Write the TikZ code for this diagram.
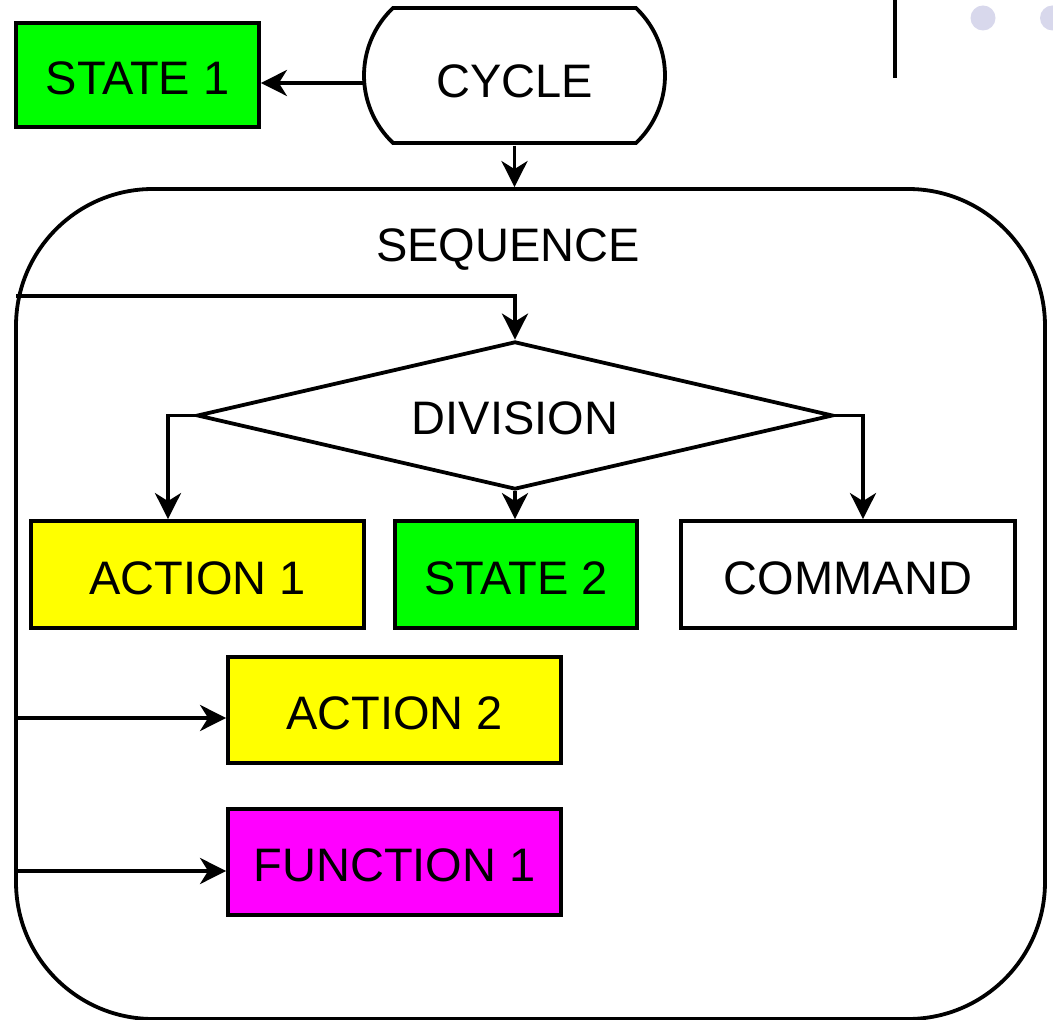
\documentclass[tikz,border=0pt]{standalone}
\usepackage{fontspec}
\setmainfont{Liberation Sans}
\usetikzlibrary{arrows.meta,shapes.geometric}
\definecolor{fillgreen}{HTML}{00FF00}
\definecolor{fillyellow}{HTML}{FFFF00}
\definecolor{fillmagenta}{HTML}{FF00FF}
\definecolor{dotgrey}{HTML}{D8D8EC}
\tikzset{
  every node/.style={font=\fontsize{47}{56}\selectfont, inner sep=0pt, text height=40pt, text depth=0pt},
  box/.style={draw, line width=3.8pt, rectangle},
  arr/.style={line width=3.8pt, -{Stealth[length=26pt, width=26pt, inset=8pt]}},
  plain/.style={line width=3.8pt},
}
\begin{document}
\begin{tikzpicture}[x=1pt, y=1pt]
\useasboundingbox (0,0) rectangle (1053,1020);
\begin{scope}
\clip (0,0) rectangle (1053,1020);

% decorative marks at the top right
\draw[plain] (895,942) -- (895,1020);
\fill[dotgrey] (983,1002) circle (12.5);
\fill[dotgrey] (1052.5,1002) circle (12.5);

% sequence container
\node[draw, line width=3.8pt, rounded corners=137pt, minimum width=1029pt, minimum height=830pt] (seq) at (530.5,416) {};
\node (seqlabel) at (508,778) {SEQUENCE};

% cycle terminator
\node[minimum width=301pt, minimum height=135pt] (cyc) at (514.5,942) {CYCLE};
\draw[plain] (393,1012) arc[start angle=133.5, end angle=226.5, radius=93]
  -- (636,877) arc[start angle=-46.5, end angle=46.5, radius=93] -- cycle;

% state 1
\node[box, fill=fillgreen, minimum width=243pt, minimum height=104pt] (s1) at (137.5,945) {STATE 1};

% division
\node[diamond, draw, line width=3.8pt, minimum width=636pt, minimum height=148pt, aspect=4.3] (div) at (515,604.5) {};
\node (divlabel) at (515,605) {DIVISION};

% first row
\node[box, fill=fillyellow, minimum width=333pt, minimum height=107pt] (a1) at (197.5,445.5) {ACTION 1};
\node[box, fill=fillgreen, minimum width=242pt, minimum height=107pt] (s2) at (516,445.5) {STATE 2};
\node[box, fill=white, minimum width=334pt, minimum height=107pt] (cmd) at (848,445.5) {COMMAND};

% further steps
\node[box, fill=fillyellow, minimum width=333pt, minimum height=106pt] (a2) at (394.5,310) {ACTION 2};
\node[box, fill=fillmagenta, minimum width=333pt, minimum height=106pt] (f1) at (394.5,158) {FUNCTION 1};

% connectors
\coordinate (loopin) at (16,724);
\coordinate (a2in) at (16,302);
\coordinate (f1in) at (16,149);
\draw[arr] (cyc.west |- 0,937) -- (s1.east |- 0,937);
\draw[arr] (cyc.south) -- (cyc.south |- seq.north);
\draw[arr] (loopin) -| (div.north);
\draw[arr] (div.west) -| (168,0 |- a1.north);
\draw[arr] (div.east) -| (863,0 |- cmd.north);
\draw[arr] (div.south) -- (div.south |- s2.north);
\draw[arr] (a2in) -- (a2in -| a2.west);
\draw[arr] (f1in) -- (f1in -| f1.west);
\end{scope}
\end{tikzpicture}
\end{document}
